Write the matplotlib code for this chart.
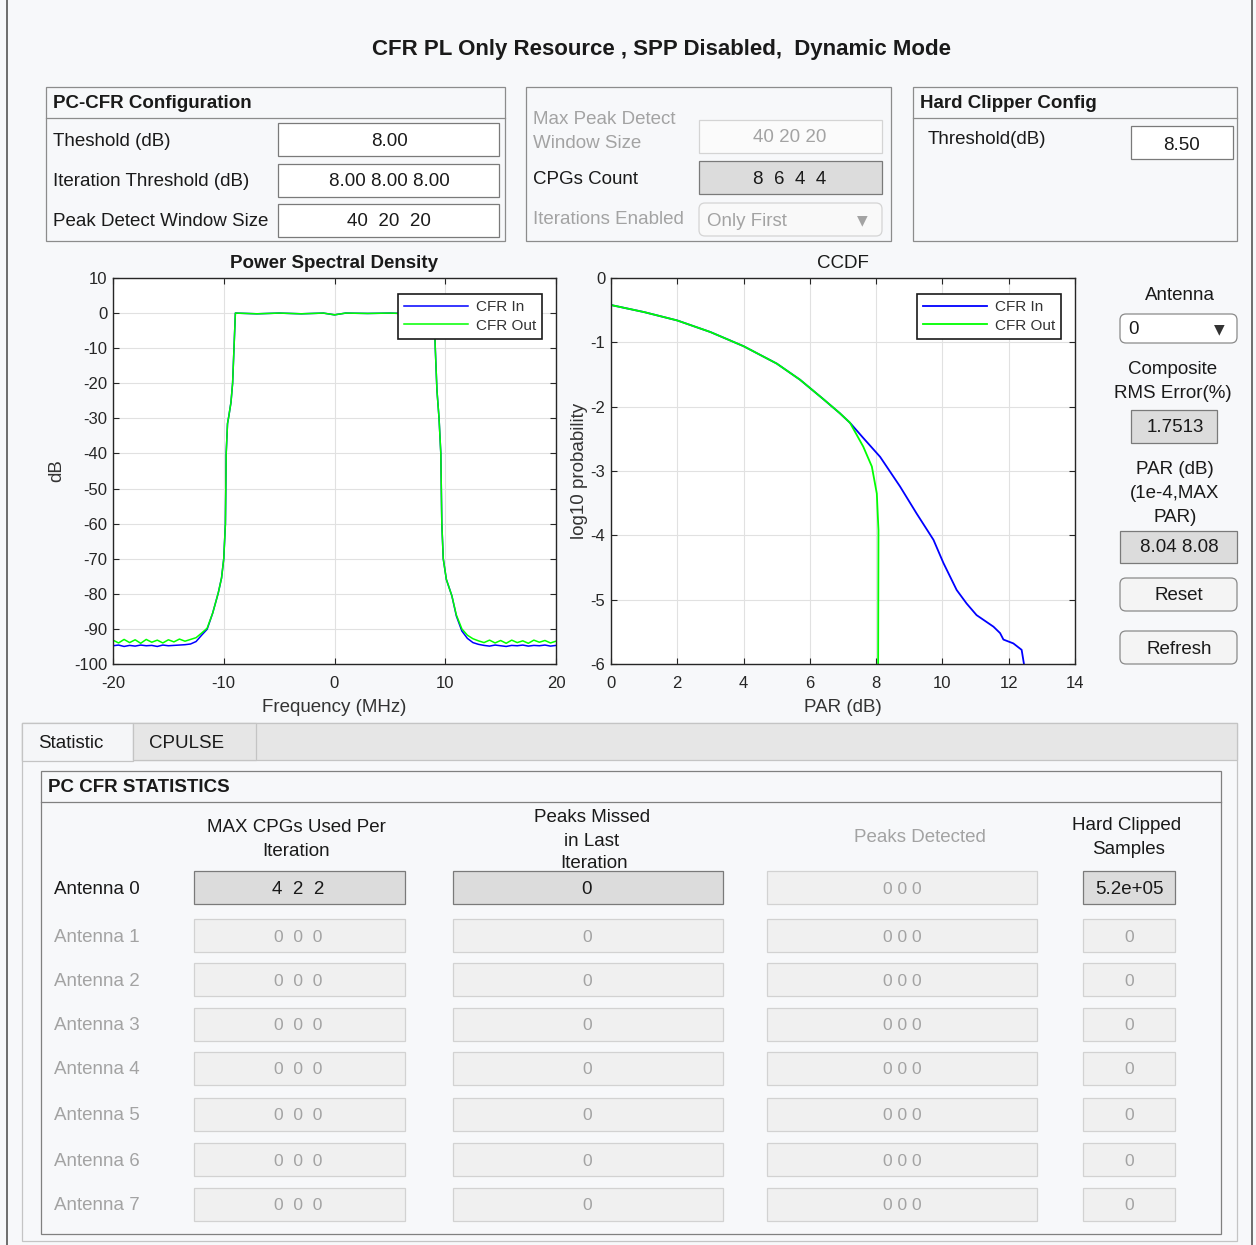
import numpy as np
import matplotlib
matplotlib.use("Agg")
import matplotlib.pyplot as plt
from matplotlib.patches import Rectangle, FancyBboxPatch

plt.rcParams['font.family'] = ['Liberation Sans', 'DejaVu Sans']
plt.rcParams['axes.unicode_minus'] = False

# ---- data ----
psd_freq = [-20.0, -19.5, -19.0, -18.5, -18.0, -17.5, -17.0, -16.5, -16.0, -15.5,
            -15.0, -14.5, -14.0, -13.5,
            -13.0, -12.5, -12.0, -11.5, -11.0, -10.5, -10.2, -10.0, -9.85, -9.78,
            -9.66, -9.55, -9.35, -9.2, -9.05, -8.95,
            -7.0, -5.0, -3.0, -1.0, 0.0, 1.0, 3.0, 5.0, 7.0,
            9.0, 9.1, 9.25, 9.44, 9.6, 9.69, 9.82, 10.1, 10.6, 11.0, 11.5, 12.0, 12.5,
            13.0, 13.5, 14.0, 14.5, 15.0, 15.5, 16.0, 16.5, 17.0, 17.5, 18.0, 18.5,
            19.0, 19.5, 20.0]
psd_out = [-93.2, -94.0, -93.0, -93.9, -93.1, -94.1, -93.0, -93.8, -93.2, -94.0,
           -93.1, -93.7, -92.9, -93.5,
           -93.0, -92.5, -91.2, -89.8, -85.5, -79.8, -75.5, -70.0, -60.0, -40.0,
           -31.5, -29.5, -25.5, -20.0, -8.0, 0.0,
           -0.2, 0.0, -0.2, 0.0, -0.5, 0.0, -0.1, 0.0, -0.2,
           0.0, -10.0, -22.0, -30.0, -40.0, -60.0, -70.0, -75.9, -80.6, -86.0, -90.0, -91.8, -92.8,
           -93.4, -93.9, -93.2, -94.0, -93.3, -94.1, -93.2, -93.9, -93.4, -94.1, -93.2, -93.8,
           -93.3, -94.0, -93.5]
psd_in = [-94.8, -94.6, -95.0, -94.7, -94.9, -94.6, -94.8, -94.7, -95.0, -94.6,
          -94.8, -94.7, -94.6, -94.5,
          -94.3, -93.6, -91.8, -90.1, -85.5, -79.8, -75.5, -70.0, -60.0, -40.0,
          -31.5, -29.5, -25.5, -20.0, -8.0, 0.0,
          -0.2, 0.0, -0.2, 0.0, -0.5, 0.0, -0.1, 0.0, -0.2,
          0.0, -10.0, -22.0, -30.0, -40.0, -60.0, -70.0, -75.9, -80.6, -86.3, -90.6, -92.7, -93.9,
          -94.4, -94.7, -94.9, -94.6, -94.8, -95.0, -94.7, -94.8, -94.6, -94.9, -94.7, -94.8,
          -94.6, -94.9, -94.7]

ccdf_par_in = [0.0, 1.0, 2.0, 3.0, 4.0, 5.0, 5.7, 6.4, 6.9, 7.21, 7.6, 8.12, 8.72,
               9.22, 9.73, 10.03, 10.43, 10.73, 11.03, 11.54, 11.74, 11.84, 12.14,
               12.39, 12.46]
ccdf_log_in = [-0.42, -0.53, -0.66, -0.84, -1.06, -1.33, -1.58, -1.88, -2.1, -2.25,
               -2.48, -2.78, -3.24, -3.66, -4.07, -4.43, -4.85, -5.06, -5.24, -5.42,
               -5.52, -5.62, -5.68, -5.78, -6.0]
ccdf_par_out = [0.0, 1.0, 2.0, 3.0, 4.0, 5.0, 5.7, 6.4, 6.9, 7.21, 7.61, 7.87, 8.02,
                8.07, 8.06]
ccdf_log_out = [-0.42, -0.53, -0.66, -0.84, -1.06, -1.33, -1.58, -1.88, -2.1, -2.25,
                -2.62, -2.93, -3.35, -3.92, -6.0]

antennas = ["Antenna 0", "Antenna 1", "Antenna 2", "Antenna 3",
            "Antenna 4", "Antenna 5", "Antenna 6", "Antenna 7"]
cpgs_used = ["4  2  2", "0  0  0", "0  0  0", "0  0  0", "0  0  0", "0  0  0", "0  0  0", "0  0  0"]
peaks_missed = ["0", "0", "0", "0", "0", "0", "0", "0"]
peaks_detected = ["0 0 0", "0 0 0", "0 0 0", "0 0 0", "0 0 0", "0 0 0", "0 0 0", "0 0 0"]
hard_clipped = ["5.2e+05", "0", "0", "0", "0", "0", "0", "0"]

W, H = 1256, 1245
BG = '#f7f8fa'
FS = 13.5
TXT = '#1a1a1a'
GREY = '#a3a3a3'

fig = plt.figure(figsize=(W / 100, H / 100), dpi=100, facecolor=BG)
bg = fig.add_axes([0, 0, 1, 1], zorder=0)
bg.set_xlim(0, W)
bg.set_ylim(H, 0)
bg.axis('off')


def rect(x0, y0, x1, y1, fc='white', ec='#7f7f7f', lw=0.9, rnd=0, z=1):
    if rnd:
        p = FancyBboxPatch((x0, y0), x1 - x0, y1 - y0,
                           boxstyle="round,pad=0,rounding_size=%d" % rnd,
                           fc=fc, ec=ec, lw=lw, zorder=z)
    else:
        p = Rectangle((x0, y0), x1 - x0, y1 - y0, fc=fc, ec=ec, lw=lw, zorder=z)
    bg.add_patch(p)


def txt(x, y, s, ha='left', color=TXT, size=FS, weight='normal', **kw):
    # text centre sits ~2px low in the screenshot compared with bbox centring
    bg.text(x, y + 2, s, ha=ha, va='center', color=color, fontsize=size,
            fontweight=weight, zorder=5, **kw)


# window borders
bg.plot([7, 7], [0, H], color='#555555', lw=1.2, zorder=2)
bg.plot([1252, 1252], [0, H], color='#555555', lw=1.2, zorder=2)

txt(662, 48, "CFR PL Only Resource , SPP Disabled,  Dynamic Mode", ha='center',
    size=16, weight='bold')

# PC-CFR configuration panel
rect(46, 87, 505, 241, fc=BG, ec='#8c8c8c')
bg.plot([46, 505], [118, 118], color='#8c8c8c', lw=0.9, zorder=2)
txt(53, 101, "PC-CFR Configuration", weight='bold')
cfg_labels = ["Theshold (dB)", "Iteration Threshold (dB)", "Peak Detect Window Size"]
cfg_values = ["8.00", "8.00 8.00 8.00", "40  20  20"]
for i, (lab, val) in enumerate(zip(cfg_labels, cfg_values)):
    yt = 123 + i * 40.5
    rect(278, yt, 499, yt + 33, fc='white', ec='#7a7a7a')
    txt(53, yt + 16, lab)
    txt(389, yt + 16, val, ha='center')

# middle panel
rect(526, 87, 891, 241, fc=BG, ec='#8c8c8c')
txt(533, 117, "Max Peak Detect", color=GREY)
txt(533, 141, "Window Size", color=GREY)
rect(699, 120, 882, 153, fc='#fbfbfb', ec='#d4d4d4')
txt(790, 136, "40 20 20", ha='center', color=GREY)
txt(533, 177, "CPGs Count")
rect(699, 161, 882, 194, fc='#dcdcdc', ec='#7a7a7a')
txt(790, 177, "8  6  4  4", ha='center')
txt(533, 218, "Iterations Enabled", color=GREY)
rect(699, 203, 882, 236, fc='#f9f9f9', ec='#d4d4d4', rnd=6)
txt(707, 219, "Only First", color=GREY)
txt(862, 218, "▼", ha='center', color=GREY, size=10, family='DejaVu Sans')

# hard clipper panel
rect(913, 87, 1237, 241, fc=BG, ec='#8c8c8c')
bg.plot([913, 1237], [118, 118], color='#8c8c8c', lw=0.9, zorder=2)
txt(920, 101, "Hard Clipper Config", weight='bold')
txt(928, 138, "Threshold(dB)")
rect(1131, 126, 1233, 159, fc='white', ec='#7a7a7a')
txt(1182, 143, "8.50", ha='center')

# right side controls
txt(1180, 293, "Antenna", ha='center')
rect(1120, 314, 1237, 343, fc='white', ec='#8a8a8a', rnd=6)
txt(1128, 328, "0")
txt(1219, 327, "▼", ha='center', color='#333333', size=10, family='DejaVu Sans')
txt(1173, 368, "Composite", ha='center')
txt(1173, 392, "RMS Error(%)", ha='center')
rect(1131, 410, 1217, 443, fc='#dcdcdc', ec='#7a7a7a')
txt(1175, 426, "1.7513", ha='center')
txt(1175, 468, "PAR (dB)", ha='center')
txt(1175, 492, "(1e-4,MAX", ha='center')
txt(1175, 516, "PAR)", ha='center')
rect(1120, 531, 1237, 563, fc='#dcdcdc', ec='#7a7a7a')
txt(1179, 546, "8.04 8.08", ha='center')
rect(1120, 578, 1237, 611, fc='#f4f4f4', ec='#8a8a8a', rnd=6)
txt(1179, 594, "Reset", ha='center')
rect(1120, 631, 1237, 664, fc='#f4f4f4', ec='#8a8a8a', rnd=6)
txt(1179, 647, "Refresh", ha='center')

# ---- plots ----
def make_axes(x0, y0, x1, y1):
    a = fig.add_axes([x0 / W, 1 - y1 / H, (x1 - x0) / W, (y1 - y0) / H], zorder=3)
    a.set_facecolor('white')
    for s in a.spines.values():
        s.set_color('#262626')
        s.set_linewidth(1.0)
    a.tick_params(direction='in', top=True, right=True, length=4, width=0.8,
                  labelsize=12, colors='#262626', pad=9)
    a.tick_params(axis='y', pad=4)
    a.grid(True, color='#e1e1e1', lw=0.8)
    a.set_axisbelow(True)
    return a


ax1 = make_axes(113, 278, 556, 664)
ax1.plot(psd_freq, psd_in, color='#0000ff', lw=1.1, label='CFR In')
ax1.plot(psd_freq, psd_out, color='#00ff00', lw=1.1, label='CFR Out')
ax1.set_xlim(-20, 20)
ax1.set_ylim(-100, 10)
ax1.set_xticks([-20, -10, 0, 10, 20])
ax1.set_yticks(np.arange(-100, 11, 10))
ax1.set_title("Power Spectral Density", fontsize=FS, fontweight='bold', pad=7, color=TXT)
ax1.set_xlabel("Frequency (MHz)", fontsize=FS, color='#333333')
ax1.set_ylabel("dB", fontsize=FS, color='#333333')
ax1.xaxis.set_label_coords(0.5, -0.09)
ax1.yaxis.set_label_coords(-0.108, 0.5)

ax2 = make_axes(611, 278, 1075, 664)
ax2.plot(ccdf_par_in, ccdf_log_in, color='#0000ff', lw=1.3, label='CFR In')
ax2.plot(ccdf_par_out, ccdf_log_out, color='#00ff00', lw=1.3, label='CFR Out')
ax2.set_xlim(0, 14)
ax2.set_ylim(-6, 0)
ax2.set_xticks(np.arange(0, 15, 2))
ax2.set_yticks(np.arange(-6, 1, 1))
ax2.set_title("CCDF", fontsize=FS, pad=7, color=TXT)
ax2.set_xlabel("PAR (dB)", fontsize=FS, color='#333333')
ax2.set_ylabel("log10 probability", fontsize=FS, color='#333333')
ax2.xaxis.set_label_coords(0.5, -0.09)
ax2.yaxis.set_label_coords(-0.05, 0.5)

for a, w, h in [(ax1, 443, 386), (ax2, 464, 386)]:
    leg = a.legend(loc='upper right', bbox_to_anchor=(1 - 14 / w, 1 - 16 / h),
                   fancybox=False, edgecolor='#1a1a1a', framealpha=1, fontsize=11,
                   handlelength=4.2, borderpad=0.4, labelspacing=0.3,
                   handletextpad=0.5, borderaxespad=0)
    leg.get_frame().set_linewidth(1.2)
    for t in leg.get_texts():
        t.set_color('#333333')

# ---- bottom tab group ----
rect(22, 723, 1237, 1241, fc=BG, ec='#c4c4c4')
rect(22, 723, 1237, 760, fc='#e6e6e6', ec='#c4c4c4')
rect(22, 723, 133, 761, fc='#f5f6f8', ec='#c4c4c4', z=2)
rect(133, 723, 256, 760, fc='#e6e6e6', ec='#c4c4c4', z=2)
txt(38, 741, "Statistic")
txt(149, 741, "CPULSE")

rect(41, 771, 1221, 1234, fc=BG, ec='#808080')
bg.plot([41, 1221], [802, 802], color='#808080', lw=0.9, zorder=2)
txt(48, 786, "PC CFR STATISTICS", weight='bold')

txt(296, 825, "MAX CPGs Used Per", ha='center')
txt(296, 849, "Iteration", ha='center')
txt(592, 816, "Peaks Missed", ha='center')
txt(592, 839, "in Last", ha='center')
txt(594, 861, "Iteration", ha='center')
txt(920, 836, "Peaks Detected", ha='center', color=GREY)
txt(1127, 824, "Hard Clipped", ha='center')
txt(1129, 848, "Samples", ha='center')

row_y = [887, 935, 979, 1024, 1068, 1114, 1159, 1204]
cols = [(194, 405), (453, 723), (767, 1037), (1083, 1175)]
for i, yc in enumerate(row_y):
    active = (i == 0)
    txt(54, yc, antennas[i], color=TXT if active else GREY)
    vals = [cpgs_used[i], peaks_missed[i], peaks_detected[i], hard_clipped[i]]
    for j, ((x0, x1), v) in enumerate(zip(cols, vals)):
        on = active and j != 2
        rect(x0, yc - 16, x1, yc + 17,
             fc='#dcdcdc' if on else '#f0f0f0',
             ec='#7a7a7a' if on else '#d2d2d2')
        txt((x0 + x1) / 2 + (-1 if j < 2 else 0), yc, v, ha='center',
            color=TXT if on else GREY, size=FS if on else 12.5)

fig.savefig("out.png", dpi=100, facecolor=BG)
